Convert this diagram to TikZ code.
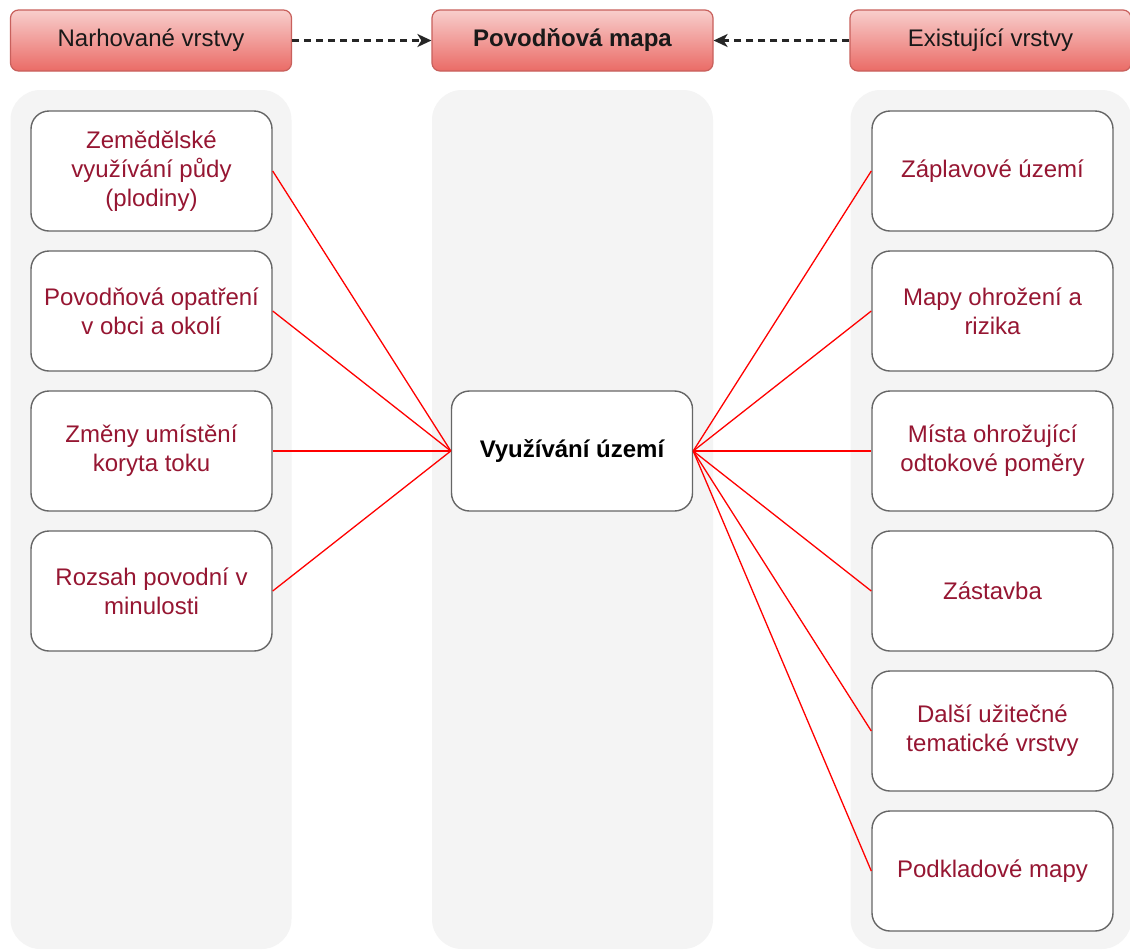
\documentclass[tikz,border=0pt]{standalone}
\usepackage{fontspec}
\setmainfont{Liberation Sans}
\usetikzlibrary{arrows.meta}
\definecolor{colbg}{HTML}{F4F4F4}
\definecolor{boxline}{HTML}{666666}
\definecolor{hdrline}{HTML}{C8605C}
\definecolor{hdrtop}{HTML}{F8CECC}
\definecolor{hdrbot}{HTML}{EA6B66}
\definecolor{txtred}{RGB}{150,22,50}
\definecolor{linkred}{HTML}{FF0000}
\tikzset{
  column/.style={fill=colbg, draw=none, rounded corners=15pt, minimum width=140.5pt, minimum height=429.5pt, inner sep=0pt},
  header/.style={draw=hdrline, line width=0.6pt, top color=hdrtop, bottom color=hdrbot, rounded corners=4pt,
     minimum width=140.5pt, minimum height=30.5pt, inner sep=0pt, text=black!90,
     font=\fontsize{12}{14.4}\selectfont},
  itembox/.style={draw=boxline, line width=0.7pt, fill=white, rounded corners=9pt,
     minimum width=120.5pt, minimum height=60pt, inner sep=0pt, align=center, text=txtred,
     font=\fontsize{12}{14.4}\selectfont},
  hubbox/.style={itembox, text=black, font=\fontsize{12}{14.4}\selectfont\bfseries},
  link/.style={draw=linkred, line width=0.65pt},
  dasharrow/.style={draw=black!85, line width=1.1pt, dash pattern=on 3.5pt off 2.5pt,
     -{Stealth[length=7pt, width=6.5pt, inset=2pt]}}
}
\begin{document}
\begin{tikzpicture}[x=0.5pt, y=-0.5pt]
\useasboundingbox (0,0) rectangle (1130,949);
\fill[white] (0,0) rectangle (1130,949);

% column backgrounds
\node[column] (colL) at (151,519.5) {};
\node[column] (colC) at (572.5,519.5) {};
\node[column] (colR) at (991,519.5) {};

% headers
\node[header] (hL) at (151,40.5) {Narhované vrstvy};
\node[header, font=\fontsize{12}{14.4}\selectfont\bfseries] (hC) at (572.5,40.5) {Povodňová mapa};
\node[header] (hR) at (990.5,40.5) {Existující vrstvy};

\draw[dasharrow] (hL.east) -- (hC.west);
\draw[dasharrow] (hR.west) -- (hC.east);

% left items
\node[itembox] (l1) at (151.5,171) {Zemědělské\\využívání půdy\\(plodiny)};
\node[itembox] (l2) at (151.5,311) {Povodňová opatření\\v obci a okolí};
\node[itembox] (l3) at (151.5,451) {Změny umístění\\koryta toku};
\node[itembox] (l4) at (151.5,591) {Rozsah povodní v\\minulosti};

% hub
\node[hubbox] (hub) at (572,451) {Využívání území};

% right items
\node[itembox] (r1) at (992.5,171) {Záplavové území};
\node[itembox] (r2) at (992.5,311) {Mapy ohrožení a\\rizika};
\node[itembox] (r3) at (992.5,451) {Místa ohrožující\\odtokové poměry};
\node[itembox] (r4) at (992.5,591) {Zástavba};
\node[itembox] (r5) at (992.5,731) {Další užitečné\\tematické vrstvy};
\node[itembox] (r6) at (992.5,871) {Podkladové mapy};

% links
\foreach \n in {l1,l2,l3,l4}{\draw[link] (\n.east) -- (hub.west);}
\foreach \n in {r1,r2,r3,r4,r5,r6}{\draw[link] (hub.east) -- (\n.west);}
\end{tikzpicture}
\end{document}
